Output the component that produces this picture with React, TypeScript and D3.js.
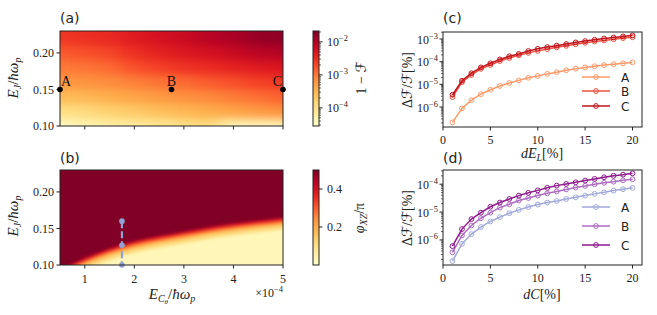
import React from "react";
import * as d3 from "d3";

// ---------------- data ----------------
// (a) heat map of log10(1 - F) on a coarse grid
const heatX = [0.5, 1, 1.5, 2, 2.5, 3, 3.5, 4, 4.5, 5];
const heatY = [0.1, 0.12, 0.14, 0.16, 0.18, 0.2, 0.22];
const log10Infidelity = [
  [-4.49, -4.35, -4.26, -4.18, -4.12, -4.0, -3.95, -4.43, -4.43, -4.4],
  [-3.97, -3.89, -3.77, -3.69, -3.6, -3.51, -3.43, -3.34, -3.25, -3.17],
  [-3.57, -3.51, -3.43, -3.34, -3.25, -3.17, -3.11, -3.02, -2.94, -2.85],
  [-3.25, -3.2, -3.14, -3.05, -2.97, -2.91, -2.82, -2.74, -2.65, -2.59],
  [-3.02, -2.97, -2.91, -2.76, -2.65, -2.56, -2.5, -2.42, -2.36, -2.3],
  [-2.82, -2.76, -2.68, -2.53, -2.42, -2.33, -2.25, -2.16, -2.04, -1.99],
  [-2.59, -2.53, -2.48, -2.36, -2.25, -2.16, -2.02, -1.93, -1.81, -1.76],
];
const pointLabels = ["A", "B", "C"];
const pointEC = [0.5, 2.75, 5];
const pointEJ = [0.15, 0.15, 0.15];

// (b) phase map as contour bands of phi_XZ / pi
const phaseX = [0.5, 1, 1.5, 2, 2.5, 3, 3.5, 4, 4.5, 5];
const phaseBandValues = [0.5, 0.41, 0.31, 0.21, 0.12, 0.03];
const phaseContourY = [
  [0.094, 0.11, 0.123, 0.133, 0.14, 0.146, 0.152, 0.157, 0.161, 0.165],
  [0.091, 0.107, 0.12, 0.13, 0.137, 0.143, 0.149, 0.154, 0.158, 0.162],
  [0.088, 0.104, 0.117, 0.127, 0.134, 0.14, 0.146, 0.151, 0.155, 0.159],
  [0.084, 0.1, 0.113, 0.123, 0.13, 0.136, 0.142, 0.147, 0.151, 0.155],
  [0.078, 0.094, 0.107, 0.117, 0.124, 0.13, 0.136, 0.141, 0.145, 0.149],
];
const sweepEC = 1.75;
const sweepEJ = [0.16, 0.127, 0.1];

// (c), (d) relative infidelity change
const dPercent = [1, 2, 3, 4, 5, 6, 7, 8, 9, 10, 11, 12, 13, 14, 15, 16, 17, 18, 19, 20];
const dEL_A = [2.1e-7, 8.7e-7, 2.0e-6, 3.7e-6, 5.8e-6, 8.5e-6, 1.15e-5, 1.5e-5, 1.95e-5, 2.35e-5, 2.9e-5, 3.45e-5, 4.2e-5, 4.9e-5, 5.6e-5, 6.3e-5, 7.1e-5, 7.8e-5, 8.5e-5, 9.3e-5];
const dEL_B = [2.75e-6, 1.26e-5, 2.6e-5, 4.8e-5, 7.2e-5, 1.07e-4, 1.45e-4, 1.9e-4, 2.45e-4, 3.0e-4, 3.6e-4, 4.3e-4, 5.0e-4, 5.9e-4, 6.8e-4, 7.8e-4, 8.7e-4, 9.8e-4, 1.1e-3, 1.2e-3];
const dEL_C = [3.5e-6, 1.45e-5, 3.1e-5, 5.6e-5, 8.5e-5, 1.26e-4, 1.74e-4, 2.2e-4, 2.95e-4, 3.7e-4, 4.4e-4, 5.1e-4, 6.0e-4, 7.1e-4, 8.1e-4, 9.3e-4, 1.05e-3, 1.17e-3, 1.3e-3, 1.45e-3];
const dC_A = [1.74e-7, 7.2e-7, 1.62e-6, 2.9e-6, 4.6e-6, 6.6e-6, 9.1e-6, 1.2e-5, 1.51e-5, 1.86e-5, 2.2e-5, 2.5e-5, 2.95e-5, 3.4e-5, 3.9e-5, 4.5e-5, 5.1e-5, 5.9e-5, 6.6e-5, 7.4e-5];
const dC_B = [3.6e-7, 1.45e-6, 3.3e-6, 6.0e-6, 9.5e-6, 1.45e-5, 1.9e-5, 2.6e-5, 3.2e-5, 3.9e-5, 4.7e-5, 5.5e-5, 6.5e-5, 7.6e-5, 8.7e-5, 1.0e-4, 1.12e-4, 1.23e-4, 1.38e-4, 1.51e-4];
const dC_C = [6.0e-7, 2.45e-6, 5.6e-6, 9.5e-6, 1.55e-5, 2.2e-5, 2.95e-5, 3.9e-5, 4.9e-5, 6.0e-5, 7.4e-5, 8.9e-5, 1.02e-4, 1.17e-4, 1.35e-4, 1.55e-4, 1.78e-4, 2.0e-4, 2.2e-4, 2.45e-4];
const seriesNames = ["A", "B", "C"];
const colorsC = ["#fc9a6a", "#ec5040", "#c0141c"];
const colorsD = ["#a0a9da", "#ad6cc2", "#8e1a8e"];

const ejTicks = [0.1, 0.15, 0.2];
const ecTicks = [1, 2, 3, 4, 5];
const dTicks = [0, 5, 10, 15, 20];

// ---------------- styles ----------------
const SERIF = "'Liberation Serif', 'DejaVu Serif', serif";
const SANS = "'DejaVu Sans', sans-serif";
const SCRIPT = "'DejaVu Serif', 'DejaVu Sans', serif";
const INK = "#222";

// ---------------- layout ----------------
const L = { x0: 60, x1: 283 };
const R = { x0: 443, x1: 642 };
const TOP = { y0: 31, y1: 126 };
const BOT = { y0: 170, y1: 265 };
const CB = { x0: 313, x1: 319 };

const xEC = d3.scaleLinear().domain([0.5, 5]).range([L.x0, L.x1]);
const yA = d3.scaleLinear().domain([0.1, 0.23]).range([TOP.y1, TOP.y0]);
const yB = d3.scaleLinear().domain([0.1, 0.23]).range([BOT.y1, BOT.y0]);
const infDomain = [Math.pow(10, -4.55), Math.pow(10, -1.67)];
const colA = d3.scaleSequentialLog(d3.interpolateYlOrRd).domain(infDomain);
const colB = d3.scaleSequential(d3.interpolateYlOrRd).domain([0, 0.5]);
const cbA = d3.scaleLog().domain(infDomain).range([TOP.y1, TOP.y0]);
const cbB = d3.scaleLinear().domain([0, 0.5]).range([BOT.y1, BOT.y0]);

const xD = d3.scaleLinear().domain([0, 21]).range([R.x0, R.x1]);
const yC = d3.scaleLog().domain([Math.pow(10, -6.88), Math.pow(10, -2.69)]).range([TOP.y1 + 1, TOP.y0 + 1]);
const yDd = d3.scaleLog().domain([Math.pow(10, -6.9), Math.pow(10, -3.49)]).range([BOT.y1, BOT.y0]);

function minorLogTicks(scale: any, kmin: number, kmax: number) {
  const [lo, hi] = scale.domain();
  const out: number[] = [];
  for (let k = kmin; k <= kmax; k++) {
    for (let m = 2; m <= 9; m++) {
      const v = m * Math.pow(10, k);
      if (v >= lo && v <= hi) out.push(v);
    }
  }
  return out;
}

function Pow({ x, y, exp, anchor = "end", size = 12 }: any) {
  return (
    <text x={x} y={y} textAnchor={anchor} fontFamily={SERIF} fontSize={size} fill={INK}>
      10
      <tspan dy={-5} fontSize={size * 0.7}>
        {"\u2212" + exp}
      </tspan>
    </text>
  );
}

function Frame({ x0, x1, y0, y1 }: any) {
  return <rect x={x0} y={y0} width={x1 - x0} height={y1 - y0} fill="none" stroke={INK} strokeWidth={1} />;
}

function EJLabel({ cy }: any) {
  return (
    <text transform={`translate(18,${cy}) rotate(-90)`} textAnchor="middle" fontFamily={SERIF} fontSize={15} fill={INK}>
      <tspan fontStyle="italic">E</tspan>
      <tspan fontStyle="italic" fontSize={10} dy={3}>J</tspan>
      <tspan dy={-3}>/</tspan>
      <tspan fontStyle="italic">ħω</tspan>
      <tspan fontStyle="italic" fontSize={10} dy={3}>p</tspan>
    </text>
  );
}

function DFLabel({ cy }: any) {
  return (
    <text transform={`translate(412,${cy}) rotate(-90)`} textAnchor="middle" fontFamily={SERIF} fontSize={14} fill={INK}>
      <tspan>Δ</tspan>
      <tspan fontFamily={SCRIPT}>ℱ</tspan>
      <tspan>/</tspan>
      <tspan fontFamily={SCRIPT}>ℱ</tspan>
      <tspan>[%]</tspan>
    </text>
  );
}

function EJAxis({ y }: any) {
  return (
    <g>
      {ejTicks.map((t) => (
        <g key={t}>
          <line x1={L.x0 - 3.5} x2={L.x0} y1={y(t)} y2={y(t)} stroke={INK} />
          <text x={L.x0 - 6} y={y(t)} dy="0.35em" textAnchor="end" fontFamily={SERIF} fontSize={12} fill={INK}>
            {t.toFixed(2)}
          </text>
        </g>
      ))}
    </g>
  );
}

function ECTicks({ yBottom, labels }: any) {
  return (
    <g>
      {ecTicks.map((t) => (
        <g key={t}>
          <line x1={xEC(t)} x2={xEC(t)} y1={yBottom} y2={yBottom + 3.5} stroke={INK} />
          {labels && (
            <text x={xEC(t)} y={yBottom + 18} textAnchor="middle" fontFamily={SERIF} fontSize={12} fill={INK}>
              {t}
            </text>
          )}
        </g>
      ))}
    </g>
  );
}

function LinePanel({ y0, y1, yScale, series, colors, majors, kmin, kmax, legendY }: any) {
  const line = d3
    .line<number>()
    .x((_, i) => xD(dPercent[i]))
    .y((v) => yScale(v));
  const minors = minorLogTicks(yScale, kmin, kmax);
  return (
    <g>
      {series.map((s: number[], si: number) => (
        <g key={si}>
          <path d={line(s) || ""} fill="none" stroke={colors[si]} strokeWidth={1.5} />
          {s.map((v, i) => (
            <circle key={i} cx={xD(dPercent[i])} cy={yScale(v)} r={2.4} fill="none" stroke={colors[si]} strokeWidth={1} />
          ))}
        </g>
      ))}
      <Frame x0={R.x0} x1={R.x1} y0={y0} y1={y1} />
      {minors.map((v) => (
        <line key={v} x1={R.x0 - 2} x2={R.x0} y1={yScale(v)} y2={yScale(v)} stroke={INK} strokeWidth={0.7} />
      ))}
      {majors.map((k: number) => (
        <g key={k}>
          <line x1={R.x0 - 3.5} x2={R.x0} y1={yScale(Math.pow(10, k))} y2={yScale(Math.pow(10, k))} stroke={INK} />
          <Pow x={R.x0 - 5} y={yScale(Math.pow(10, k)) + 4.5} exp={-k} />
        </g>
      ))}
      {dTicks.map((t) => (
        <g key={t}>
          <line x1={xD(t)} x2={xD(t)} y1={y1} y2={y1 + 3.5} stroke={INK} />
          <text x={xD(t)} y={y1 + 17} textAnchor="middle" fontFamily={SERIF} fontSize={12} fill={INK}>
            {t}
          </text>
        </g>
      ))}
      {seriesNames.map((n, i) => (
        <g key={n}>
          <line x1={582} x2={610} y1={legendY[i]} y2={legendY[i]} stroke={colors[i]} strokeWidth={1.5} />
          <circle cx={596} cy={legendY[i]} r={2.4} fill="none" stroke={colors[i]} strokeWidth={1} />
          <text x={621} y={legendY[i] + 4.5} fontFamily={SANS} fontSize={12} fill={INK}>
            {n}
          </text>
        </g>
      ))}
    </g>
  );
}

export default function App() {
  // (a) cells
  const cells: any[] = [];
  heatY.forEach((ey, i) => {
    heatX.forEach((ec, j) => {
      const xa = xEC(Math.max(0.5, ec - 0.25));
      const xb = xEC(Math.min(5, ec + 0.25));
      const top = i === heatY.length - 1 ? 0.23 : ey + 0.01;
      const ya = yA(top);
      const yb = yA(Math.max(0.1, ey - 0.01));
      cells.push(
        <rect key={`${i}-${j}`} x={xa} y={ya} width={xb - xa} height={yb - ya} fill={colA(Math.pow(10, log10Infidelity[i][j]))} />
      );
    });
  });

  // (b) bands
  const area = d3
    .area<number>()
    .x((_, i) => xEC(phaseX[i]))
    .y0(BOT.y1 + 10)
    .y1((v) => yB(v))
    .curve(d3.curveMonotoneX);

  const gradStops = d3.range(0, 1.0001, 0.05);

  const minorsCbA = minorLogTicks(cbA, -5, -2);

  return (
    <svg width={657} height={315} style={{ position: "absolute", left: 0, top: 0 }} xmlns="http://www.w3.org/2000/svg">
      <defs>
        <clipPath id="clipA">
          <rect x={L.x0} y={TOP.y0} width={L.x1 - L.x0} height={TOP.y1 - TOP.y0} />
        </clipPath>
        <clipPath id="clipB">
          <rect x={L.x0} y={BOT.y0} width={L.x1 - L.x0} height={BOT.y1 - BOT.y0} />
        </clipPath>
        <filter id="blurA" filterUnits="userSpaceOnUse" x={L.x0} y={TOP.y0} width={L.x1 - L.x0} height={TOP.y1 - TOP.y0} colorInterpolationFilters="sRGB">
          <feGaussianBlur stdDeviation="9 4" />
          <feComponentTransfer>
            <feFuncA type="table" tableValues="1 1" />
          </feComponentTransfer>
        </filter>
        <filter id="blurB" filterUnits="userSpaceOnUse" x={L.x0} y={BOT.y0} width={L.x1 - L.x0} height={BOT.y1 - BOT.y0} colorInterpolationFilters="sRGB">
          <feGaussianBlur stdDeviation="1.5" />
          <feComponentTransfer>
            <feFuncA type="table" tableValues="1 1" />
          </feComponentTransfer>
        </filter>
        <linearGradient id="gradCb" x1="0" y1="1" x2="0" y2="0">
          {gradStops.map((t) => (
            <stop key={t} offset={t} stopColor={d3.interpolateYlOrRd(t)} />
          ))}
        </linearGradient>
      </defs>

      <rect x={0} y={0} width={657} height={315} fill="#fff" />

      {/* ---------- (a) ---------- */}
      <g clipPath="url(#clipA)">
        <g filter="url(#blurA)">{cells}</g>
      </g>
      <Frame x0={L.x0} x1={L.x1} y0={TOP.y0} y1={TOP.y1} />
      <EJAxis y={yA} />
      <ECTicks yBottom={TOP.y1} labels={false} />
      {pointLabels.map((n, i) => (
        <g key={n}>
          <circle cx={xEC(pointEC[i])} cy={yA(pointEJ[i])} r={2.8} fill="#000" />
          <text
            x={xEC(pointEC[i]) + (i === 0 ? 1 : i === 2 ? -1 : 0)}
            y={yA(pointEJ[i]) - 3}
            textAnchor={i === 0 ? "start" : i === 2 ? "end" : "middle"}
            fontFamily={SERIF}
            fontSize={14}
            fill="#111"
          >
            {n}
          </text>
        </g>
      ))}
      <EJLabel cy={78} />
      <text x={L.x0} y={23} fontFamily={SANS} fontSize={14} fill={INK}>(a)</text>

      {/* colorbar (a) */}
      <rect x={CB.x0} y={TOP.y0} width={CB.x1 - CB.x0} height={TOP.y1 - TOP.y0} fill="url(#gradCb)" stroke={INK} strokeWidth={1} />
      {minorsCbA.map((v) => (
        <line key={v} x1={CB.x1} x2={CB.x1 + 2} y1={cbA(v)} y2={cbA(v)} stroke={INK} strokeWidth={0.7} />
      ))}
      {[-2, -3, -4].map((k) => (
        <g key={k}>
          <line x1={CB.x1} x2={CB.x1 + 3.5} y1={cbA(Math.pow(10, k))} y2={cbA(Math.pow(10, k))} stroke={INK} />
          <Pow x={CB.x1 + 8} y={cbA(Math.pow(10, k)) + 4.5} exp={-k} anchor="start" />
        </g>
      ))}
      <text transform={`translate(366,78) rotate(-90)`} textAnchor="middle" fontFamily={SERIF} fontSize={14} fill={INK}>
        1 − <tspan fontFamily={SCRIPT}>ℱ</tspan>
      </text>

      {/* ---------- (b) ---------- */}
      <g clipPath="url(#clipB)">
        <g filter="url(#blurB)">
          <rect x={L.x0} y={BOT.y0} width={L.x1 - L.x0} height={BOT.y1 - BOT.y0} fill={colB(phaseBandValues[0])} />
          {phaseContourY.map((c, i) => (
            <path key={i} d={area(c) || ""} fill={colB(phaseBandValues[i + 1])} />
          ))}
        </g>
      </g>
      <line
        x1={xEC(sweepEC)}
        x2={xEC(sweepEC)}
        y1={yB(d3.max(sweepEJ) as number)}
        y2={yB(d3.min(sweepEJ) as number)}
        stroke="#8fa2d4"
        strokeWidth={2.2}
        strokeDasharray="7,3"
      />
      {sweepEJ.map((v) => (
        <circle key={v} cx={xEC(sweepEC)} cy={yB(v)} r={2.8} fill="#8fa2d4" />
      ))}
      <Frame x0={L.x0} x1={L.x1} y0={BOT.y0} y1={BOT.y1} />
      <EJAxis y={yB} />
      <ECTicks yBottom={BOT.y1} labels={true} />
      <EJLabel cy={216} />
      <text x={L.x0} y={163} fontFamily={SANS} fontSize={14} fill={INK}>(b)</text>
      <text x={172} y={299} textAnchor="middle" fontFamily={SERIF} fontSize={15} fill={INK}>
        <tspan fontStyle="italic">E</tspan>
        <tspan fontStyle="italic" fontSize={10} dy={3}>C</tspan>
        <tspan fontStyle="italic" fontSize={7} dy={2}>θ</tspan>
        <tspan dy={-5}>/</tspan>
        <tspan fontStyle="italic">ħω</tspan>
        <tspan fontStyle="italic" fontSize={10} dy={3}>p</tspan>
      </text>
      <text x={L.x1} y={297} textAnchor="end" fontFamily={SERIF} fontSize={12} fill={INK}>
        ×10<tspan dy={-5} fontSize={8.5}>−4</tspan>
      </text>

      {/* colorbar (b) */}
      <rect x={CB.x0} y={BOT.y0} width={CB.x1 - CB.x0} height={BOT.y1 - BOT.y0} fill="url(#gradCb)" stroke={INK} strokeWidth={1} />
      {[0.2, 0.4].map((t) => (
        <g key={t}>
          <line x1={CB.x1} x2={CB.x1 + 3.5} y1={cbB(t)} y2={cbB(t)} stroke={INK} />
          <text x={CB.x1 + 8} y={cbB(t)} dy="0.35em" fontFamily={SERIF} fontSize={12} fill={INK}>
            {t.toFixed(1)}
          </text>
        </g>
      ))}
      <text transform={`translate(364,218) rotate(-90)`} textAnchor="middle" fontFamily={SERIF} fontSize={14} fill={INK}>
        <tspan fontStyle="italic">φ</tspan>
        <tspan fontStyle="italic" fontSize={10} dy={3}>XZ</tspan>
        <tspan dy={-3}>/π</tspan>
      </text>

      {/* ---------- (c) ---------- */}
      <LinePanel
        y0={32}
        y1={127}
        yScale={yC}
        series={[dEL_A, dEL_B, dEL_C]}
        colors={colorsC}
        majors={[-3, -4, -5, -6]}
        kmin={-7}
        kmax={-3}
        legendY={[77, 91, 106]}
      />
      <DFLabel cy={80} />
      <text x={R.x0} y={23} fontFamily={SANS} fontSize={14} fill={INK}>(c)</text>
      <text x={542} y={158} textAnchor="middle" fontFamily={SERIF} fontSize={14} fill={INK}>
        <tspan fontStyle="italic">dE</tspan>
        <tspan fontStyle="italic" fontSize={10} dy={3}>L</tspan>
        <tspan dy={-3}>[%]</tspan>
      </text>

      {/* ---------- (d) ---------- */}
      <LinePanel
        y0={170}
        y1={265}
        yScale={yDd}
        series={[dC_A, dC_B, dC_C]}
        colors={colorsD}
        majors={[-4, -5, -6]}
        kmin={-7}
        kmax={-4}
        legendY={[207, 226, 245]}
      />
      <DFLabel cy={218} />
      <text x={R.x0} y={163} fontFamily={SANS} fontSize={14} fill={INK}>(d)</text>
      <text x={542} y={299} textAnchor="middle" fontFamily={SERIF} fontSize={14} fill={INK}>
        <tspan fontStyle="italic">dC</tspan>
        <tspan>[%]</tspan>
      </text>
    </svg>
  );
}
